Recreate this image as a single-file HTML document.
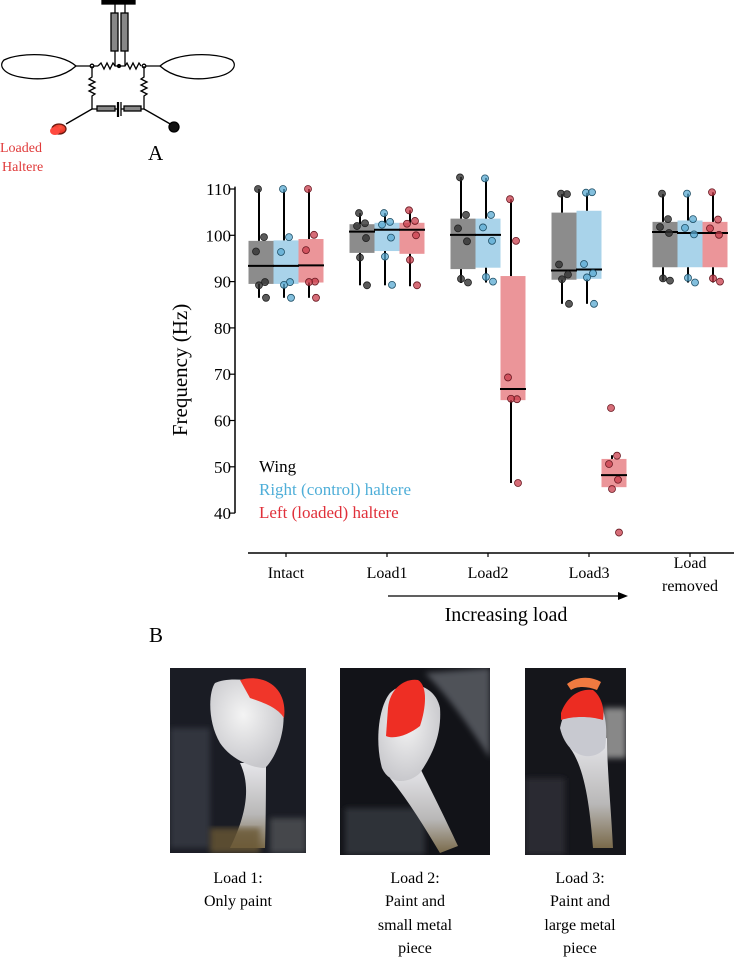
<!DOCTYPE html>
<html><head><meta charset="utf-8">
<style>
body{margin:0;background:#fff;}
svg text{font-family:"Liberation Serif",serif;}
</style></head>
<body>
<svg width="734" height="959" viewBox="0 0 734 959" xmlns="http://www.w3.org/2000/svg">
<defs>
<radialGradient id="redball" cx="0.6" cy="0.35" r="0.6"><stop offset="0" stop-color="#ff5a44"/><stop offset="1" stop-color="#e02a1f"/></radialGradient>
<linearGradient id="stem" x1="0" y1="0" x2="0" y2="1"><stop offset="0" stop-color="#e6e6ea"/><stop offset="0.6" stop-color="#b9b8b8"/><stop offset="1" stop-color="#7a6a4a"/></linearGradient>
<radialGradient id="bulb" cx="0.45" cy="0.4" r="0.6"><stop offset="0" stop-color="#f4f4f4"/><stop offset="1" stop-color="#c8c8cc"/></radialGradient>
<filter id="blur"><feGaussianBlur stdDeviation="3"/></filter>
</defs>
<g stroke="#000" stroke-width="1.3" fill="none">
<rect x="102" y="0" width="33" height="4" fill="#000"/>
<line x1="115" y1="4" x2="115" y2="13"/><line x1="125" y1="4" x2="125" y2="13"/>
<rect x="111" y="13" width="7" height="38" fill="#888"/><rect x="121" y="13" width="7" height="38" fill="#888"/>
<line x1="115" y1="51" x2="115" y2="66"/><line x1="125" y1="51" x2="125" y2="66"/>
<path d="M76,66 C60,52 20,52 4,60 C-2,66 4,74 20,77 C45,82 65,76 76,66 Z"/>
<path d="M160,66 C176,52 216,52 232,60 C238,66 232,74 216,77 C191,82 171,76 160,66 Z"/>
<line x1="76" y1="66" x2="98" y2="66"/>
<path d="M98,66 l3,-3 l3,6 l3,-6 l3,6 l3,-6 l2,3 l5,0"/>
<path d="M120,66 l5,0 l2,-3 l3,6 l3,-6 l3,6 l3,-6 l2,3"/>
<line x1="142" y1="66" x2="160" y2="66"/>
<circle cx="92" cy="66" r="1.8" fill="#fff"/><circle cx="144" cy="66" r="1.8" fill="#fff"/><circle cx="119" cy="66" r="1.5" fill="#000"/>
<path d="M92,66 v11 l-3,2 l6,3 l-6,3 l6,3 l-6,3 l6,3 l-3,2 v13"/>
<path d="M144,66 v11 l-3,2 l6,3 l-6,3 l6,3 l-6,3 l6,3 l-3,2 v13"/>
<line x1="92" y1="109" x2="97" y2="109"/><rect x="97" y="106" width="18" height="5" fill="#888"/>
<line x1="115" y1="109" x2="118" y2="109"/><line x1="118" y1="102" x2="118" y2="117" stroke-width="2.2"/>
<line x1="121" y1="102" x2="121" y2="116"/><line x1="121" y1="109" x2="124" y2="109"/>
<rect x="124" y="106" width="17" height="5" fill="#888"/><line x1="141" y1="109" x2="144" y2="109"/>
<line x1="92" y1="109" x2="66" y2="124"/><line x1="144" y1="109" x2="172" y2="125"/>
<circle cx="174" cy="127" r="5" fill="#111"/>
<ellipse cx="59" cy="129" rx="7" ry="5" fill="url(#redball)" stroke="#6a1a10"/>
<ellipse cx="55" cy="131" rx="5" ry="4" fill="#ff4a40" stroke="none"/>
</g>
<text x="0" y="152" font-size="14" fill="#e03a3a">Loaded</text>
<text x="2" y="171" font-size="14" fill="#e03a3a">Haltere</text>
<text x="148" y="160" font-size="21" fill="#000">A</text>

<g id="chart"></g>

<text x="149" y="642" font-size="21">B</text>

<svg x="170" y="668" width="136" height="185">
<rect width="136" height="185" fill="#1a1c24"/>
<g filter="url(#blur)">
<rect x="0" y="60" width="40" height="120" fill="#3a3e4a" opacity="0.7"/>
<rect x="100" y="150" width="36" height="35" fill="#45464c"/>
</g>
<path d="M70,95 C82,120 75,150 60,180 L95,180 C96,150 96,110 96,95 Z" fill="url(#stem)"/>
<path d="M45,15 C60,8 100,10 112,35 C118,60 106,90 95,100 C80,100 60,90 50,75 C38,55 38,25 45,15 Z" fill="url(#bulb)"/>
<path d="M70,12 C95,5 118,20 114,50 C108,40 95,35 80,30 Z" fill="#f0362a"/>
<rect x="40" y="160" width="50" height="25" fill="#6b5836" opacity="0.8" filter="url(#blur)"/>
</svg>
<svg x="340" y="668" width="150" height="187">
<rect width="150" height="187" fill="#121318"/>
<g filter="url(#blur)">
<path d="M85,5 C110,30 130,60 150,90 L150,0 Z" fill="#6a6c74" opacity="0.7"/>
<rect x="5" y="140" width="80" height="47" fill="#2e3038"/>
</g>
<path d="M50,110 C70,135 85,160 100,185 L118,178 C105,150 90,120 80,100 Z" fill="url(#stem)"/>
<path d="M50,25 C65,10 95,15 100,40 C102,70 90,90 80,105 C70,115 50,118 42,100 C35,75 38,40 50,25 Z" fill="url(#bulb)"/>
<path d="M48,40 C50,20 65,10 78,12 C88,18 86,40 80,58 C70,66 55,72 46,68 Z" fill="#ee2e24"/>
</svg>
<svg x="525" y="668" width="101" height="187">
<rect width="101" height="187" fill="#15161b"/>
<g filter="url(#blur)"><rect x="0" y="110" width="40" height="77" fill="#2a2b33"/><rect x="78" y="40" width="23" height="50" fill="#888"/></g>
<path d="M45,80 C60,100 65,140 68,180 L88,180 C86,140 82,100 82,70 Z" fill="url(#stem)"/>
<path d="M35,60 C40,35 55,25 68,24 C78,35 84,55 80,80 C68,95 42,90 35,60 Z" fill="#c8c9d0"/>
<path d="M36,45 C42,28 55,20 68,22 C76,28 80,40 78,52 C65,48 48,48 36,52 Z" fill="#ec2c22"/>
<path d="M42,16 C52,8 66,8 76,14 L72,22 C62,18 52,18 46,22 Z" fill="#f07a40"/>
</svg>
<g font-size="16" text-anchor="middle">
<text x="238" y="883">Load 1:</text><text x="238" y="906">Only paint</text>
<text x="415" y="883">Load 2:</text><text x="415" y="906">Paint and</text><text x="415" y="930">small metal</text><text x="415" y="953">piece</text>
<text x="580" y="883">Load 3:</text><text x="580" y="906">Paint and</text><text x="580" y="930">large metal</text><text x="580" y="953">piece</text>
</g>

<script>
const categories = ["Intact","Load1","Load2","Load3","Load removed"];
const yTicks = [40,50,60,70,80,90,100,110];
// box stats per series: [whiskerLow, q1, median, q3, whiskerHigh]
const wingStats = [[86.5,89.5,93.4,98.8,110],[89.2,96.2,100.8,102.4,104.8],[89.7,92.7,100.1,103.6,112.6],[85.2,90.4,92.4,104.9,108.9],[90.2,93.1,100.7,102.9,108.9]];
const rightStats = [[86.5,89.5,93.4,98.9,110],[89.2,96.6,101.2,102.7,104.8],[89.8,93.0,100.1,103.6,112.4],[85.2,90.6,92.6,105.3,109.2],[89.8,93.1,100.5,103.2,109]];
const leftStats = [[86.5,89.8,93.5,99.2,110],[89,96.0,101.2,102.7,105.4],[46.5,64.4,66.8,91.2,107.8],[45.6,45.6,48.2,51.7,52.5],[89.8,93.1,100.5,102.9,109.3]];
const wingPoints = [[110,99.6,96.5,89.9,89.2,86.5],[104.8,102.6,102,99.4,95.2,89.2],[112.5,104.4,101.5,98.7,90.6,89.8],[109,108.9,93.7,91.5,90.5,85.2],[109,103.5,101.8,100.5,90.7,90.2]];
const rightPoints = [[110,99.6,96.4,89.9,89.3,86.5],[104.8,102.9,102.3,99.5,95.4,89.3],[112.3,104.4,101.7,98.8,91.0,90],[109.2,109.3,93.8,91.8,90.9,85.2],[109,103.5,101.6,100.2,90.8,89.8]];
const leftPoints = [[110,100.1,96.8,90,89.9,86.5],[105.4,103.1,102.5,100.0,94.7,89.2],[107.8,98.8,69.3,64.6,64.7,46.5],[62.7,52.4,50.6,47.2,45.2,35.8],[109.3,103.4,101.5,100.1,90.7,90]];

const NS="http://www.w3.org/2000/svg";
const g=document.getElementById('chart');
const y0=189, yPer=4.63;
function yScale(v){return y0+(110-v)*yPer;}
function xCenter(i){return 286+i*101;}
function mk(tag,attrs,parent){const e=document.createElementNS(NS,tag);for(const k in attrs)e.setAttribute(k,attrs[k]);(parent||g).appendChild(e);return e;}

let ax=mk('line',{x1:235,y1:yScale(110.5),x2:235,y2:yScale(40),stroke:'#000','stroke-width':1.5});


yTicks.forEach(t=>{
  let tk=mk('line',{x1:230,x2:235,y1:yScale(t),y2:yScale(t),stroke:'#000','stroke-width':1.2});
  
  
  let tl=mk('text',{x:231,y:yScale(t)+6,'text-anchor':'end','font-size':17});
  
  
  tl.textContent=t;
});
let yt=mk('text',{x:0,y:0,'font-size':21,'text-anchor':'middle',transform:'translate(187,370) rotate(-90)'});


yt.textContent='Frequency (Hz)';

let xa=mk('line',{x1:248,x2:734,y1:553,y2:553,stroke:'#000','stroke-width':1.5});


categories.forEach((c,i)=>{
  let tk=mk('line',{x1:xCenter(i),x2:xCenter(i),y1:553,y2:557,stroke:'#000','stroke-width':1.2});
  
  
  const parts=c==='Load removed'?['Load','removed']:[c];
  parts.forEach((p,j)=>{
    let tl=mk('text',{x:xCenter(i),y:(parts.length>1?568:578)+j*23,'text-anchor':'middle','font-size':16});
    
    
    tl.textContent=p;
  });
});
let ar=mk('line',{x1:388,x2:620,y1:596,y2:596,stroke:'#000','stroke-width':1.2});


let ah=mk('polygon',{points:'628,596 618,592 618,600',fill:'#000'});


let il=mk('text',{x:506,y:621,'text-anchor':'middle','font-size':20});


il.textContent='Increasing load';

const series=[
 {name:'wing',stats:wingStats,pts:wingPoints,box:'#8c8c8c',pf:'rgba(50,50,50,0.8)',ps:'#222',off:-25},
 {name:'right',stats:rightStats,pts:rightPoints,box:'#a9d3ea',pf:'rgba(90,170,210,0.75)',ps:'#1f4f66',off:0},
 {name:'left',stats:leftStats,pts:leftPoints,box:'#eb9599',pf:'rgba(200,60,75,0.75)',ps:'#6a1a22',off:25}
];
const jitter=[-3,3,-5,4,-2,5];
series.forEach(s=>{
  s.stats.forEach((st,i)=>{
    const cx=xCenter(i)+s.off;
    let b=mk('rect',{x:cx-12.5,y:yScale(st[3]),width:25,height:yScale(st[1])-yScale(st[3]),fill:s.box});
    
    
    let wl2=mk('line',{x1:cx-2,x2:cx-2,y1:yScale(st[4]),y2:yScale(st[3]),stroke:'#000','stroke-width':2});
    
    
    let wl3=mk('line',{x1:cx-2,x2:cx-2,y1:yScale(st[1]),y2:yScale(st[0]),stroke:'#000','stroke-width':2});
    
    
  });
});
series.forEach(s=>{
  s.stats.forEach((st,i)=>{
    const cx=xCenter(i)+s.off;
    let m=mk('line',{x1:cx-13,x2:cx+13,y1:yScale(st[2]),y2:yScale(st[2]),stroke:'#000','stroke-width':2});
    
    
  });
  s.pts.forEach((arr,i)=>{
    const cx=xCenter(i)+s.off;
    arr.forEach((v,j)=>{
      let c=mk('circle',{cx:cx+jitter[j],cy:yScale(v),r:3.5,fill:s.pf,stroke:s.ps,'stroke-width':0.8});
      
      
    });
  });
});
const legend=[['Wing','#000'],['Right (control) haltere','#4eaed8'],['Left (loaded) haltere','#e0303a']];
legend.forEach((l,i)=>{
  let t=mk('text',{x:259,y:472+i*23,'font-size':17,fill:l[1]});
  
  
  t.textContent=l[0];
});
</script>
</svg>
</body></html>
